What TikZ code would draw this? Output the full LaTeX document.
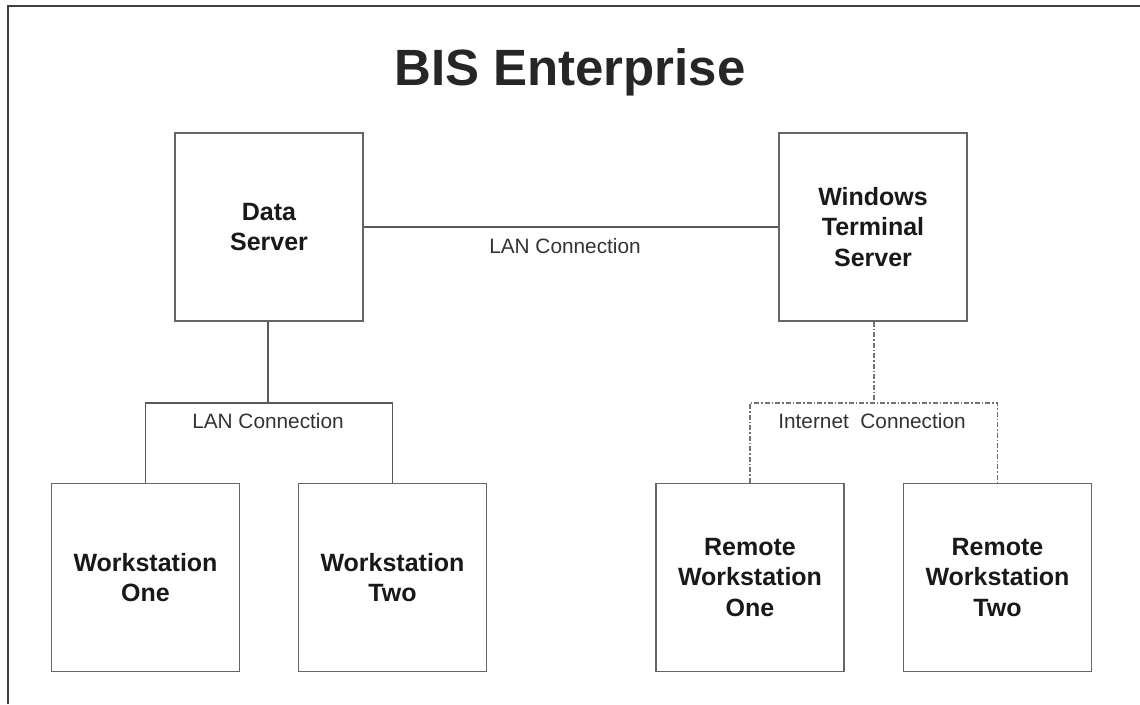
\documentclass[tikz,border=0pt]{standalone}
\usepackage{fontspec}
\setmainfont{Liberation Sans}
\begin{document}
\begin{tikzpicture}[x=1pt,y=-1pt,
  box/.style={draw=black!60,line width=1.3pt,minimum width=188pt,minimum height=188pt,inner sep=0pt,
    font=\fontsize{25}{30.5}\selectfont\bfseries,align=center,text=black!90},
  link/.style={draw=black!65,line width=1.2pt},
  netlink/.style={draw=black!55,line width=1.1pt,dash pattern=on 5pt off 2pt on 1.5pt off 2pt},
  lbl/.style={font=\fontsize{20.8}{24}\selectfont,text=black!80,inner sep=0pt}]
\useasboundingbox (0,0) rectangle (1140,704);
\fill[white] (0,0) rectangle (1140,704);
\draw[black!75,line width=2pt] (8,704) -- (8,6) -- (1140,6);
\node[font=\fontsize{51}{60}\selectfont\bfseries,text=black!85] (title) at (570,72) {BIS Enterprise};
\node[box] (ds) at (269,227) {Data\\Server};
\node[box] (wts) at (873,227) {Windows\\Terminal\\Server};
\node[box] (w1) at (145.5,577.5) {Workstation\\One};
\node[box] (w2) at (392.5,577.5) {Workstation\\Two};
\node[box] (r1) at (750,577.5) {Remote\\Workstation\\One};
\node[box] (r2) at (997.5,577.5) {Remote\\Workstation\\Two};
\coordinate (lj) at (268,403);
\coordinate (rj) at (874,403);
\draw[link] (ds.east) -- (wts.west);
\node[lbl] (lan1) at (565,246) {LAN Connection};
\draw[link] (ds.south -| lj) -- (lj);
\draw[link] (w1.north) |- (lj) -| (w2.north);
\node[lbl] (lan2) at (268,421) {LAN Connection};
\draw[netlink] (wts.south -| rj) -- (rj);
\draw[netlink] (r1.north) |- (rj) -| (r2.north);
\node[lbl] (inet) at (872,421) {Internet\ \ Connection};
\end{tikzpicture}
\end{document}
